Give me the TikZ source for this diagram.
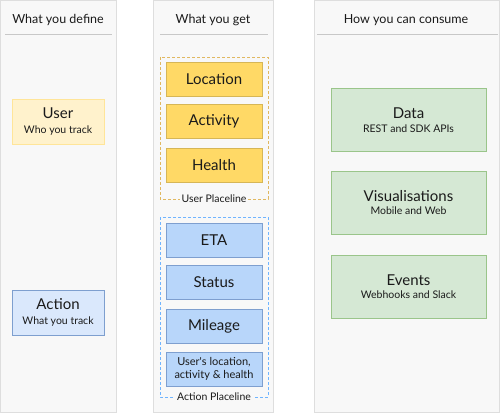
\documentclass[tikz,border=0pt]{standalone}
\usepackage{fontspec}
\setmainfont{Lato}
\definecolor{panelfill}{HTML}{F8F8F8}
\definecolor{panelline}{HTML}{DEDEDE}
\definecolor{headline}{HTML}{C8C8C8}
\definecolor{txt}{HTML}{1A1A1A}
\definecolor{ylight}{HTML}{FFF2CC}
\definecolor{ylightb}{HTML}{FFE599}
\definecolor{ydark}{HTML}{FFD966}
\definecolor{ydarkb}{HTML}{D6B656}
\definecolor{blight}{HTML}{DAE8FC}
\definecolor{bdark}{HTML}{B8D6FA}
\definecolor{bborder}{HTML}{7E9FCF}
\definecolor{gfill}{HTML}{D5E8D4}
\definecolor{gborder}{HTML}{9AC58A}
\definecolor{ydash}{HTML}{E0B860}
\definecolor{bdash}{HTML}{6FB4FF}
\begin{document}
\begin{tikzpicture}[x=1pt,y=-1pt,
  panel/.style={draw=panelline,fill=panelfill,line width=0.8pt},
  hline/.style={draw=headline,line width=0.8pt},
  headtxt/.style={text=txt,font=\fontsize{12.5}{14}\selectfont,inner sep=0pt},
  box/.style={inner sep=0pt,align=center,text=txt,line width=0.9pt},
  ybox/.style={box,draw=ydarkb,fill=ydark,minimum width=96pt,minimum height=34pt,font=\fontsize{15}{17}\selectfont},
  bbox/.style={box,draw=bborder,fill=bdark,minimum width=96pt,minimum height=34pt,font=\fontsize{15}{17}\selectfont},
  gbox/.style={box,draw=gborder,fill=gfill,minimum width=155pt,minimum height=63pt},
  placeline/.style={dashed,line width=0.8pt,dash pattern=on 3pt off 2pt},
  pltxt/.style={fill=panelfill,inner sep=2pt,text=txt,font=\fontsize{10.5}{12}\selectfont}
]
\useasboundingbox (0,0) rectangle (500,414);
% panels
\path[panel] (0.5,0.5) rectangle (116,412);
\path[panel] (153,0.5) rectangle (273,412);
\path[panel] (314,0.5) rectangle (499,412);
% header lines
\draw[hline] (5,34) -- (112,34);
\draw[hline] (160,34) -- (268,34);
\draw[hline] (317,34) -- (498,34);
\node[headtxt] (h1) at (58,20) {What you define};
\node[headtxt] (h2) at (213,20) {What you get};
\node[headtxt] (h3) at (406,20) {How you can consume};
% column 1
\node[box,draw=ylightb,fill=ylight,minimum width=92pt,minimum height=45pt] (user) at (58,121.5)
  {{\fontsize{15}{17}\selectfont User}\\[3pt]{\fontsize{10.5}{12}\selectfont Who you track}};
\node[box,draw=bborder,fill=blight,minimum width=92pt,minimum height=45pt] (action) at (58,312.5)
  {{\fontsize{15}{17}\selectfont Action}\\[3pt]{\fontsize{10.5}{12}\selectfont What you track}};
% user placeline
\draw[placeline,draw=ydash] (160,57) rectangle (268,199);
\node[pltxt] (upl) at (214,199) {User Placeline};
\node[ybox] (loc) at (214,79) {Location};
\node[ybox] (act) at (214,121) {Activity};
\node[ybox] (hea) at (214,165) {Health};
% action placeline
\draw[placeline,draw=bdash] (160,217) rectangle (268,397);
\node[pltxt] (apl) at (214,397) {Action Placeline};
\node[bbox] (eta) at (214,240) {ETA};
\node[bbox] (sta) at (214,282) {Status};
\node[bbox] (mil) at (214,326) {Mileage};
\node[bbox,font=\fontsize{11}{12.5}\selectfont] (ula) at (214,369) {User\textquotesingle s location,\\activity \& health};
% column 3
\node[gbox] (data) at (408.5,120)
  {{\fontsize{15}{17}\selectfont Data}\\[1.5pt]{\fontsize{10.5}{12}\selectfont REST and SDK APIs}};
\node[gbox] (vis) at (408.5,202.5)
  {{\fontsize{15}{17}\selectfont Visualisations}\\[1.5pt]{\fontsize{10.5}{12}\selectfont Mobile and Web}};
\node[gbox] (evt) at (408.5,286.5)
  {{\fontsize{15}{17}\selectfont Events}\\[1.5pt]{\fontsize{10.5}{12}\selectfont Webhooks and Slack}};
\end{tikzpicture}
\end{document}
